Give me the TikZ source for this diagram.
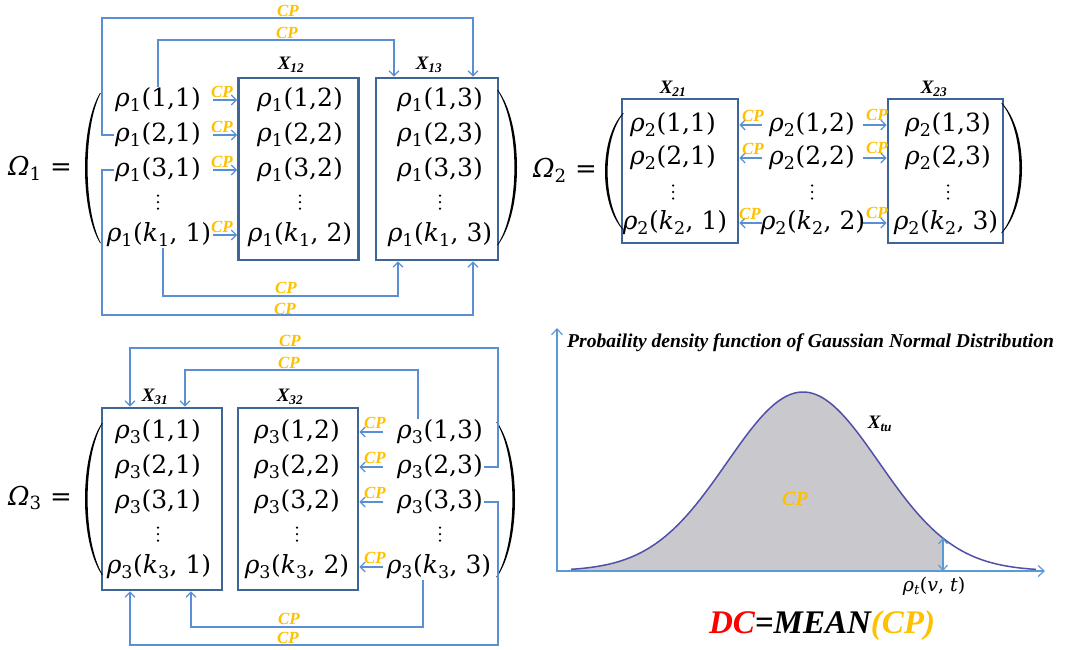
\documentclass[tikz,border=0pt]{standalone}
\usepackage{amsmath}
\usepackage{fontspec}
\newfontfamily\tnr{Liberation Serif}
\newfontfamily\dvs{DejaVu Serif}
\usetikzlibrary{arrows.meta}
\definecolor{cblue}{HTML}{5B8FD4}
\definecolor{boxc}{HTML}{3D6598}
\definecolor{gold}{HTML}{FFC000}
\definecolor{curvec}{HTML}{5050A8}
\definecolor{fillg}{HTML}{C9C9CD}
\definecolor{axisc}{HTML}{5B9BD5}
\newcommand\rr[3]{\textit{ρ}\textsubscript{#1}(#2,#3)}
\newcommand\kk[1]{\textit{k}\textsubscript{#1}}
\newcommand\parenL[4]{\fill[black] (#1,#2) .. controls ({#1-(#1-#4)/0.75},{#2+0.22*(#3-#2)}) and ({#1-(#1-#4)/0.75},{#3-0.22*(#3-#2)}) .. (#1,#3) -- ({#1+0.8},#3) .. controls ({#1+0.8-(#1+0.8-#4-2.6)/0.75},{#3-0.22*(#3-#2)}) and ({#1+0.8-(#1+0.8-#4-2.6)/0.75},{#2+0.22*(#3-#2)}) .. ({#1+0.8},#2) -- cycle;}
\newcommand\parenR[4]{\fill[black] (#1,#2) .. controls ({#1+(#4-#1)/0.75},{#2+0.22*(#3-#2)}) and ({#1+(#4-#1)/0.75},{#3-0.22*(#3-#2)}) .. (#1,#3) -- ({#1-0.8},#3) .. controls ({#1-0.8+(#4-2.6-#1+0.8)/0.75},{#3-0.22*(#3-#2)}) and ({#1-0.8+(#4-2.6-#1+0.8)/0.75},{#2+0.22*(#3-#2)}) .. ({#1-0.8},#2) -- cycle;}
\begin{document}
\begin{tikzpicture}[x=1pt,y=-1pt,
  ent/.style={font=\dvs\fontsize{25}{30}\selectfont, inner sep=1pt, anchor=center},
  vdn/.style={minimum width=4pt, minimum height=17pt, inner sep=0pt,
    path picture={
      \fill (path picture bounding box.center) circle (1.25pt);
      \fill ([yshift=6.5pt]path picture bounding box.center) circle (1.25pt);
      \fill ([yshift=-6.5pt]path picture bounding box.center) circle (1.25pt);}},
  lbl/.style={font=\dvs\fontsize{26}{30}\selectfont, inner sep=0pt},
  cp/.style={text=gold, font=\tnr\bfseries\itshape\fontsize{17}{17}\selectfont, inner sep=0pt},
  xlab/.style={font=\tnr\bfseries\itshape\fontsize{19}{19}\selectfont, inner sep=0pt},
  blk/.style={draw=boxc, line width=2.6pt, inner sep=0pt},
  conn/.style={draw=cblue, line width=1.3pt, -{Straight Barb[length=5pt,width=10pt]}},
  axis/.style={draw=axisc, line width=1.2pt, -{Straight Barb[length=6pt,width=11pt]}},
  dbl/.style={draw=axisc, line width=1.2pt, {Straight Barb[length=5pt,width=9pt]}-{Straight Barb[length=5pt,width=9pt]}}]
\useasboundingbox (0,0) rectangle (1071,649);

% ---------------- Omega 1 ----------------
\node[lbl] (o1) at (40,168) {\textit{Ω}\textsubscript{1} =};
\foreach \r/\y in {1/100,2/135,3/170}{
  \node[ent] (a\r1) at (158,\y) {\rr{1}{\r}{1}};
  \node[ent] (a\r2) at (300,\y) {\rr{1}{\r}{2}};
  \node[ent] (a\r3) at (440,\y) {\rr{1}{\r}{3}};
}
\node[vdn] (ad1) at (158,202) {};
\node[vdn] (ad2) at (300,202) {};
\node[vdn] (ad3) at (440,202) {};
\node[ent] (ak1) at (159,235) {\rr{1}{\kk{1}}{ 1}};
\node[ent] (ak2) at (300,235) {\rr{1}{\kk{1}}{ 2}};
\node[ent] (ak3) at (440,235) {\rr{1}{\kk{1}}{ 3}};
\node[blk, minimum width=120pt, minimum height=182pt] (b12) at (298.5,169) {};
\node[blk, minimum width=122pt, minimum height=182pt] (b13) at (437,169) {};
\node[xlab] (x12) at (291,65) {X\textsubscript{12}};
\node[xlab] (x13) at (429,65) {X\textsubscript{13}};
\parenL{100}{93}{243}{85}
\parenR{498}{90}{245}{517}
\coordinate (s1) at (213,0);
\foreach \r in {1,2,3,k}{
  \draw[conn] (a\r1 -| s1) -- (a\r1 -| b12.west);
  \path (a\r1 -| s1) ++(9,-8) node[cp] {CP};
}
\draw[conn] (a21.west) -- (102,135) -- (102,18) -- (473,18) -- ([xshift=36pt]b13.north);
\node[cp] at (288,11) {CP};
\draw[conn] (a11.north) -- (158,40) -- (394,40) -- ([xshift=-43pt]b13.north);
\node[cp] at (287,33) {CP};
\draw[conn] ([xshift=4pt]ak1.south) -- (163,296) -- (398,296) -- ([xshift=-39pt]b13.south);
\node[cp] at (286,288) {CP};
\draw[conn] (a31.west) -- (102,170) -- (102,315) -- (473,315) -- ([xshift=36pt]b13.south);
\node[cp] at (285,309) {CP};

% ---------------- Omega 2 ----------------
\node[lbl] (o2) at (565,170) {\textit{Ω}\textsubscript{2} =};
\foreach \r/\y in {1/125,2/158}{
  \node[ent] (p\r1) at (673,\y) {\rr{2}{\r}{1}};
  \node[ent] (p\r2) at (812,\y) {\rr{2}{\r}{2}};
  \node[ent] (p\r3) at (948,\y) {\rr{2}{\r}{3}};
}
\node[vdn] (pd1) at (673,192) {};
\node[vdn] (pd2) at (812,192) {};
\node[vdn] (pd3) at (948,192) {};
\node[ent] (pk1) at (675,223) {\rr{2}{\kk{2}}{ 1}};
\node[ent] (pk2) at (813,223) {\rr{2}{\kk{2}}{ 2}};
\node[ent] (pk3) at (946,223) {\rr{2}{\kk{2}}{ 3}};
\node[blk, minimum width=116pt, minimum height=144pt] (c21) at (680,171) {};
\node[blk, minimum width=115pt, minimum height=144pt] (c23) at (945.5,171) {};
\node[xlab] (x21) at (673,89) {X\textsubscript{21}};
\node[xlab] (x23) at (934,89) {X\textsubscript{23}};
\parenL{623}{113}{230}{605}
\parenR{1002}{103}{233}{1022}
\coordinate (t1) at (762,0);
\coordinate (t2) at (863,0);
\foreach \r/\dx in {1/-9,2/-9,k/-12}{
  \draw[conn] (p\r2 -| t1) -- (p\r2 -| c21.east);
  \path (p\r2 -| t1) ++(\dx,-9) node[cp] {CP};
  \draw[conn] (p\r2 -| t2) -- (p\r2 -| c23.west);
  \path (p\r2 -| t2) ++(14,-10) node[cp] {CP};
}

% ---------------- Omega 3 ----------------
\node[lbl] (o3) at (40,498) {\textit{Ω}\textsubscript{3} =};
\foreach \r/\y in {1/432,2/467,3/502}{
  \node[ent] (q\r1) at (158,\y) {\rr{3}{\r}{1}};
  \node[ent] (q\r2) at (297,\y) {\rr{3}{\r}{2}};
  \node[ent] (q\r3) at (440,\y) {\rr{3}{\r}{3}};
}
\node[vdn] (qd1) at (158,534) {};
\node[vdn] (qd2) at (297,534) {};
\node[vdn] (qd3) at (440,534) {};
\node[ent] (qk1) at (159,567) {\rr{3}{\kk{3}}{ 1}};
\node[ent] (qk2) at (297,567) {\rr{3}{\kk{3}}{ 2}};
\node[ent] (qk3) at (439,567) {\rr{3}{\kk{3}}{ 3}};
\node[blk, minimum width=120pt, minimum height=182pt] (d31) at (162,499) {};
\node[blk, minimum width=120pt, minimum height=182pt] (d32) at (298,499) {};
\node[xlab] (x31) at (155,397) {X\textsubscript{31}};
\node[xlab] (x32) at (290,397) {X\textsubscript{32}};
\parenL{102}{423}{575}{85}
\parenR{497}{422}{577}{515}
\coordinate (u1) at (383,0);
\foreach \r in {1,2,3,k}{
  \draw[conn] (q\r3 -| u1) -- (q\r3 -| d32.east);
  \path (q\r3 -| u1) ++(-8,-9) node[cp] {CP};
}
\draw[conn] (q23.east) -- (498,467) -- (498,348) -- (130,348) -- ([xshift=-32pt]d31.north);
\node[cp] at (290,341) {CP};
\draw[conn] ([xshift=-22pt]q13.north) -- (418,370) -- (185,370) -- ([xshift=23pt]d31.north);
\node[cp] at (289,363) {CP};
\draw[conn] ([xshift=-16pt]qk3.south) -- (423,627) -- (191,627) -- ([xshift=29pt]d31.south);
\node[cp] at (289,619) {CP};
\draw[conn] (q33.east) -- (498,502) -- (498,645) -- (130,645) -- ([xshift=-32pt]d31.south);
\node[cp] at (288,638) {CP};

% ---------------- Gaussian chart ----------------
\coordinate (O) at (557,571);
\coordinate (XE) at (1045,571);
\coordinate (YE) at (557,328);
\fill[fillg] plot[domain=571:943, samples=90] (\x,{571-179*exp(-0.5*((\x-803)/76)^2)}) -- (943,571) -- (571,571) -- cycle;
\draw[axis] (O) -- (XE);
\draw[axis] ([yshift=-1pt]O) -- (YE);
\draw[draw=curvec, line width=1.5pt] plot[domain=571:1036, samples=120] (\x,{571-179*exp(-0.5*((\x-803)/76)^2)});
\coordinate (P0) at (943,571);
\coordinate (P1) at (943,538);
\draw[dbl] (P0) -- (P1);
\node[font=\tnr\bfseries\itshape\fontsize{19.6}{20}\selectfont, anchor=west, inner sep=0pt] (title) at (567,343) {Probaility density function of Gaussian Normal Distribution};
\node[xlab] (xtu) at (880,424) {X\textsubscript{tu}};
\node[text=gold, font=\tnr\bfseries\itshape\fontsize{20}{20}\selectfont, inner sep=0pt] (cpc) at (795,499) {CP};
\node[font=\dvs\fontsize{19}{22}\selectfont, inner sep=0pt] (rt) at (934,586) {\textit{ρ}\textsubscript{\textit{t}}(\textit{v}, \textit{t})};
\node[font=\tnr\bfseries\itshape\fontsize{33}{33}\selectfont, inner sep=0pt] (dc) at (822,626) {\textcolor{red}{DC}=MEAN\textcolor{gold}{(CP)}};
\end{tikzpicture}
\end{document}
